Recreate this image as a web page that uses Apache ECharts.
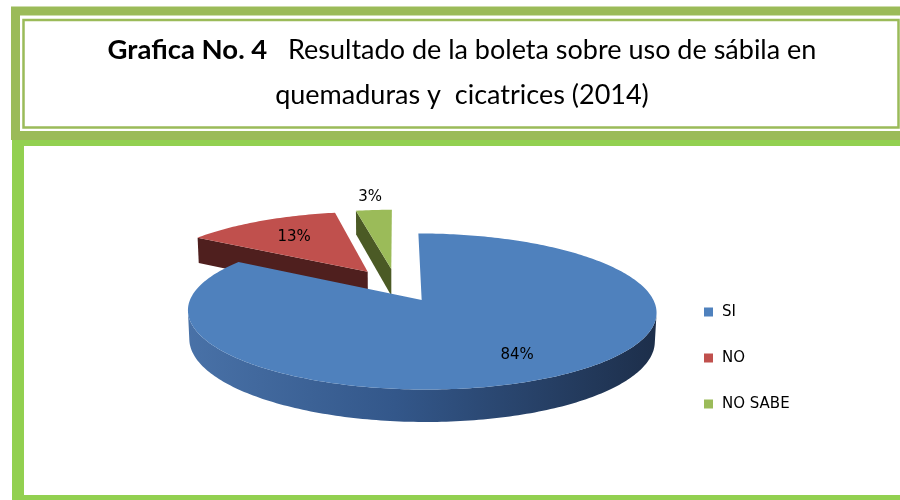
<!DOCTYPE html>
<html>
<head>
<meta charset="utf-8">
<script src="https://cdn.jsdelivr.net/npm/echarts@6/dist/echarts.min.js"></script>
<style>
  html, body { margin: 0; background: #fff; }
  #main { width: 900px; height: 500px; }
</style>
</head>
<body>
<div id="main"></div>
<script>
// datos de la grafica
const categories = ['SI', 'NO', 'NO SABE'];
const values = [84, 13, 3];

const topColors = ['#4f81bd', '#c0504d', '#9bbb59'];
const sideColors = [
  { type: 'linear', x: 175, y: 0, x2: 665, y2: 0, global: true,
    colorStops: [{ offset: 0, color: '#4a73a9' }, { offset: 0.45, color: '#33578a' }, { offset: 1, color: '#1c2d48' }] },
  '#4f1f1e',
  '#4b5a25'
];
const labelR = [0.75, 0.66, 1.25];

// "camara" para el pastel 3D
const S = 225, D = 6.6, TH = Math.asin(0.32), H = 0.13, EXPLODE = 0.23;
const CX = 396, CY = 285;

function project(u, v, h) {
  const yc = h * Math.cos(TH) + v * Math.sin(TH);
  const zc = D + v * Math.cos(TH) - h * Math.sin(TH);
  return [CX + S * u * D / zc, CY - S * yc * D / zc];
}

const total = values.reduce((a, b) => a + b, 0);
function sliceAngles(k) {
  let before = 0;
  for (let i = 0; i < k; i++) before += values[i];
  const a0 = Math.PI / 2 - 2 * Math.PI * before / total;
  const a1 = a0 - 2 * Math.PI * values[k] / total;
  const m = (a0 + a1) / 2;
  return { a0, a1, eu: EXPLODE * Math.cos(m), ev: EXPLODE * Math.sin(m), m };
}

// camara en (0, -D cos, D sin); devuelve que tanto mira la cara hacia la camara
function facing(nu, nv, pu, pv) {
  return nu * (0 - pu) + nv * (-D * Math.cos(TH) - pv);
}

function sliceItem(k) {
  return function (params, api) {
    const val = api.value(0);
    const { a0, a1, eu, ev, m } = sliceAngles(k);
    const steps = Math.max(4, Math.ceil((a0 - a1) / (Math.PI / 180)));
    const arcTop = [], arcBot = [], vis = [];
    for (let i = 0; i <= steps; i++) {
      const f = a1 + (a0 - a1) * i / steps;
      const pu = eu + Math.cos(f), pv = ev + Math.sin(f);
      arcTop.push(project(pu, pv, 0));
      arcBot.push(project(pu, pv, -H));
      vis.push(facing(Math.cos(f), Math.sin(f), pu, pv) > 0);
    }
    const children = [];
    // lado exterior
    let run = null;
    const flush = () => {
      if (run && run.length > 1) {
        const pts = run.map(i => arcTop[i]).concat(run.slice().reverse().map(i => arcBot[i]));
        children.push({ type: 'polygon', shape: { points: pts }, style: { fill: sideColors[k] }, z2: 1 });
      }
      run = null;
    };
    for (let i = 0; i <= steps; i++) {
      if (vis[i]) { (run = run || []).push(i); } else flush();
    }
    flush();
    // caras de corte (solo las que se ven de frente)
    const apexT = project(eu, ev, 0), apexB = project(eu, ev, -H);
    if (facing(-Math.sin(a0), Math.cos(a0), eu, ev) > 0.5) {
      children.push({ type: 'polygon', shape: { points: [apexT, arcTop[steps], arcBot[steps], apexB] }, style: { fill: sideColors[k] }, z2: 2 });
    }
    if (facing(Math.sin(a1), -Math.cos(a1), eu, ev) > 0.5) {
      children.push({ type: 'polygon', shape: { points: [apexT, arcTop[0], arcBot[0], apexB] }, style: { fill: sideColors[k] }, z2: 2 });
    }
    // cara superior
    children.push({ type: 'polygon', shape: { points: [apexT].concat(arcTop) }, style: { fill: topColors[k] }, z2: 3 });
    // etiqueta
    const lp = project(eu + labelR[k] * Math.cos(m), ev + labelR[k] * Math.sin(m), 0);
    children.push({
      type: 'text', x: lp[0], y: lp[1], z2: 4,
      style: { text: Math.round(val / total * 100) + '%', fill: '#000', font: '15px "DejaVu Sans"', textAlign: 'center', textVerticalAlign: 'middle' }
    });
    return { type: 'group', children };
  };
}

const chart = echarts.init(document.getElementById('main'));
chart.setOption({
  animation: false,
  legend: {
    orient: 'vertical', left: 699, top: 299,
    icon: 'rect', itemWidth: 9, itemHeight: 9, itemGap: 30,
    textStyle: { fontFamily: 'DejaVu Sans', fontSize: 15, color: '#000', lineHeight: 16, padding: [0, 0, 0, 4] },
    data: categories
  },
  graphic: [
    // marco del titulo
    { type: 'rect', shape: { x: 15.5, y: 11, width: 900, height: 124.5 }, style: { fill: 'none', stroke: '#9bbb59', lineWidth: 9 } },
    { type: 'rect', shape: { x: 23.5, y: 20, width: 875, height: 107.5 }, style: { fill: 'none', stroke: '#9bbb59', lineWidth: 2.5 } },
    // marco de la grafica
    { type: 'rect', shape: { x: 12, y: 140, width: 888, height: 6 }, style: { fill: '#92d050' } },
    { type: 'rect', shape: { x: 12, y: 140, width: 12, height: 360 }, style: { fill: '#92d050' } },
    { type: 'rect', shape: { x: 12, y: 495, width: 888, height: 5 }, style: { fill: '#92d050' } },
    {
      type: 'text', x: 462, y: 50,
      style: {
        text: '{b|Grafica No. 4}   Resultado de la boleta sobre uso de sábila en',
        rich: { b: { fontWeight: 'bold', fontFamily: 'Lato', fontSize: 27.5, fill: '#000' } },
        fontFamily: 'Lato', fontSize: 27, fill: '#000', textAlign: 'center', textVerticalAlign: 'middle'
      }
    },
    {
      type: 'text', x: 462, y: 95,
      style: { text: 'quemaduras y  cicatrices (2014)', fontFamily: 'Lato', fontSize: 27, fill: '#000', textAlign: 'center', textVerticalAlign: 'middle' }
    }
  ],
  series: categories.map((name, k) => ({
    type: 'custom',
    name: name,
    coordinateSystem: 'none',
    silent: true,
    z: Math.round(100 - sliceAngles(k).ev * 100),
    itemStyle: { color: topColors[k] },
    data: [[values[k]]],
    renderItem: sliceItem(k)
  }))
});
</script>
</body>
</html>
